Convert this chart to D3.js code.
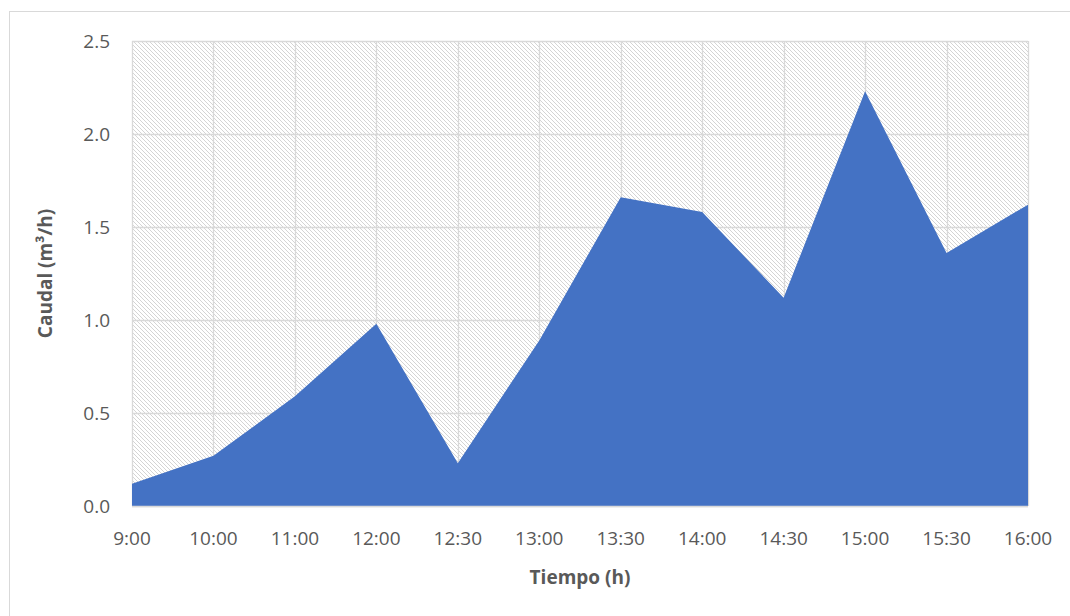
<!DOCTYPE html>
<html>
<head>
<meta charset="utf-8">
<script src="https://cdn.jsdelivr.net/npm/d3@7"></script>
<style>
  body { margin: 0; background: #fff; }
  text { font-family: "Open Sans", "Liberation Sans", sans-serif; }
</style>
</head>
<body>
<svg width="1070" height="616"></svg>
<script>
const horas = ["9:00", "10:00", "11:00", "12:00", "12:30", "13:00", "13:30", "14:00", "14:30", "15:00", "15:30", "16:00"]
const caudal = [0.12, 0.27, 0.59, 0.98, 0.23, 0.89, 1.66, 1.58, 1.12, 2.23, 1.36, 1.62]
const yTicks = [0, 0.5, 1.0, 1.5, 2.0, 2.5]

const svg = d3.select("svg")
const plotL = 132, plotR = 1028, plotT = 41, plotB = 506

// chart border (runs off the right/bottom edge like the screenshot)
svg.append("rect")
    .attr("x", 9.5).attr("y", 11.5)
    .attr("width", 1080).attr("height", 620)
    .style("fill", "none")
    .style("stroke", "#d9d9d9")

const defs = svg.append("defs")
const pat = defs.append("pattern")
    .attr("id", "hatch")
    .attr("patternUnits", "userSpaceOnUse")
    .attr("width", 4).attr("height", 4)
pat.append("rect").attr("width", 4).attr("height", 4).style("fill", "#fff")
pat.append("path")
    .attr("d", "M-1,-1 L5,5 M-1,3 L1,5 M3,-1 L5,1")
    .style("stroke", "#d4d4d4")
    .style("stroke-width", 1)

const x = d3.scalePoint().domain(horas).range([plotL, plotR])
const y = d3.scaleLinear().domain([0, 2.5]).range([plotB, plotT])

svg.append("rect")
    .attr("x", plotL).attr("y", plotT)
    .attr("width", plotR - plotL).attr("height", plotB - plotT)
    .style("fill", "url(#hatch)")

// gridlines
svg.append("g")
    .selectAll("line.h")
    .data(yTicks)
    .enter()
    .append("line")
    .attr("x1", plotL).attr("x2", plotR)
    .attr("y1", d => Math.round(y(d)) + 0.5)
    .attr("y2", d => Math.round(y(d)) + 0.5)
    .style("stroke", "#d9d9d9")
    .style("stroke-width", 1.3)

svg.append("g")
    .selectAll("line.v")
    .data(horas)
    .enter()
    .append("line")
    .attr("x1", d => Math.round(x(d)) + 0.5)
    .attr("x2", d => Math.round(x(d)) + 0.5)
    .attr("y1", plotT).attr("y2", plotB)
    .style("stroke", "#d9d9d9")
    .style("stroke-width", 1.3)

const area = d3.area()
    .x((d, i) => x(horas[i]))
    .y0(y(0))
    .y1(d => y(d))

svg.append("path")
    .datum(caudal)
    .attr("d", area)
    .style("fill", "#4472c4")

// bottom axis line
svg.append("line")
    .attr("x1", plotL).attr("x2", plotR)
    .attr("y1", plotB + 0.5).attr("y2", plotB + 0.5)
    .style("stroke", "#d9d9d9")
    .style("stroke-width", 1.3)

svg.append("g")
    .selectAll("text")
    .data(yTicks)
    .enter()
    .append("text")
    .attr("x", plotL - 22)
    .attr("y", d => y(d))
    .attr("dy", "0.35em")
    .style("text-anchor", "end")
    .style("font-size", "19px")
    .style("fill", "#595959")
    .text(d => d.toFixed(1))

svg.append("g")
    .selectAll("text")
    .data(horas)
    .enter()
    .append("text")
    .attr("x", d => x(d))
    .attr("y", 545)
    .style("text-anchor", "middle")
    .style("font-size", "19px")
    .style("fill", "#595959")
    .text(d => d)

svg.append("text")
    .attr("x", (plotL + plotR) / 2)
    .attr("y", 584)
    .style("text-anchor", "middle")
    .style("font-size", "19px")
    .style("font-weight", "bold")
    .style("fill", "#595959")
    .text("Tiempo (h)")

svg.append("text")
    .attr("transform", `translate(52, ${(plotT + plotB) / 2}) rotate(-90)`)
    .style("text-anchor", "middle")
    .style("font-size", "19px")
    .style("font-weight", "bold")
    .style("fill", "#595959")
    .text("Caudal (m³/h)")
</script>
</body>
</html>
